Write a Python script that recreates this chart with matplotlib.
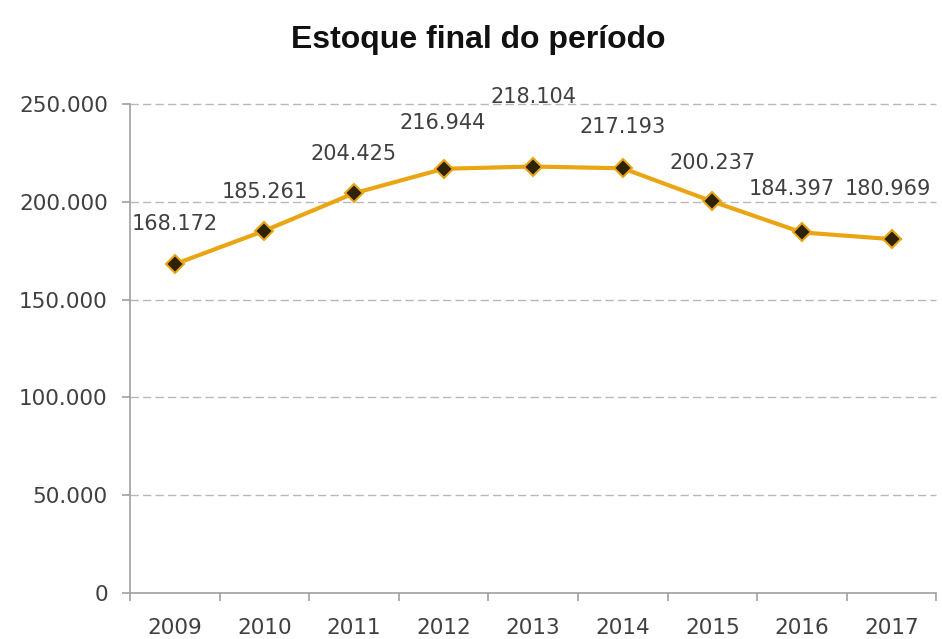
import numpy as np
import matplotlib.pyplot as plt
from matplotlib.ticker import FuncFormatter, FixedLocator

anos = ["2009", "2010", "2011", "2012", "2013", "2014", "2015", "2016", "2017"]
estoque = [168172, 185261, 204425, 216944, 218104, 217193, 200237, 184397, 180969]
rotulos = ["168.172", "185.261", "204.425", "216.944", "218.104",
           "217.193", "200.237", "184.397", "180.969"]
# deslocamento dos rotulos (pontos)
desloc_x = [0, 0, 0, -1, 0, 0, 0, -7, -3]
desloc_y = [29, 28, 28, 33, 50, 30, 28, 31, 36]

cor_linha = "#E9A514"
cor_texto = "#404040"

fig = plt.figure(figsize=(9.42, 6.39), dpi=100)
ax = fig.add_axes([0.138, 0.072, 0.856, 0.765])

x = np.arange(len(anos))
ax.plot(x, estoque, color=cor_linha, lw=3, marker="D", markersize=9,
        markerfacecolor="#2e2208", markeredgecolor=cor_linha, markeredgewidth=1.5,
        zorder=3, clip_on=False)

for i, (v, r) in enumerate(zip(estoque, rotulos)):
    ax.annotate(r, (x[i], v), xytext=(desloc_x[i], desloc_y[i]), textcoords="offset points",
                ha="center", va="center", fontsize=15, color=cor_texto, annotation_clip=False)

ax.set_xlim(-0.5, len(anos) - 0.5)
ax.set_ylim(0, 250000)
ax.set_yticks([0, 50000, 100000, 150000, 200000, 250000])
ax.yaxis.set_major_formatter(FuncFormatter(lambda v, p: "0" if v == 0 else f"{v:,.0f}".replace(",", ".")))
ax.set_xticks(x)
ax.set_xticklabels(anos)
ax.xaxis.set_minor_locator(FixedLocator(np.arange(-0.5, len(anos), 1.0)))
ax.tick_params(axis="x", which="major", length=0, pad=18, labelsize=15.5, labelcolor=cor_texto)
ax.tick_params(axis="x", which="minor", length=6, color="#a0a0a0", width=1.2)
ax.tick_params(axis="y", length=6, color="#a0a0a0", width=1.2, labelsize=15.5,
               labelcolor=cor_texto, pad=10)

for g in [50000, 100000, 150000, 200000, 250000]:
    ax.axhline(g, color="#b8b8b8", lw=1, ls=(0, (6, 3)), zorder=1, clip_on=False)

for s in ["top", "right"]:
    ax.spines[s].set_visible(False)
ax.spines["left"].set_color("#a0a0a0")
ax.spines["bottom"].set_color("#a0a0a0")
ax.spines["left"].set_linewidth(1.2)
ax.spines["bottom"].set_linewidth(1.2)

fig.text(0.508, 0.937, "Estoque final do período", ha="center", va="center", fontsize=23,
         fontweight="bold", family="Liberation Sans", color="#111111")

fig.savefig("out.png", dpi=100)
